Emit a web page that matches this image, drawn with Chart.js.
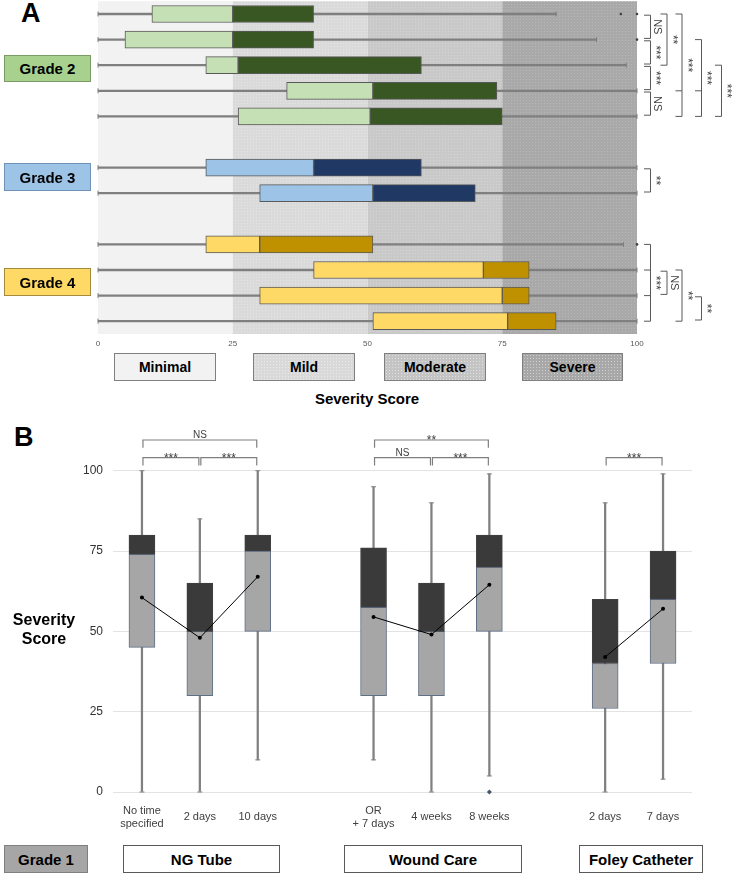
<!DOCTYPE html>
<html>
<head>
<meta charset="utf-8">
<script src="https://cdn.jsdelivr.net/npm/chart.js@4.4.1/dist/chart.umd.min.js"></script>
<style>
  body { margin: 0; width: 733px; height: 874px; position: relative; overflow: hidden; background: #fff;
         font-family: "Liberation Sans", Arial, sans-serif; }
  .abs { position: absolute; }
  .box { position: absolute; box-sizing: border-box; display: flex; align-items: center; justify-content: center;
         font-weight: bold; font-size: 15px; color: #000; border: 1px solid #595959; }
  .dots { background-image: radial-gradient(circle, rgba(255,255,255,0.45) 0.55px, rgba(255,255,255,0) 0.9px);
          background-size: 3px 3px; }
  .panel { position: absolute; font-weight: bold; font-size: 27px; line-height: 27px; color: #000; }
</style>
</head>
<body>

<div class="panel" style="left:21px;top:0px">A</div>
<div class="panel" style="left:14px;top:424px">B</div>

<div class="abs" style="left:0;top:0"><canvas id="chartA" width="733" height="352"></canvas></div>
<div class="abs" style="left:0;top:420px"><canvas id="chartB" width="733" height="410"></canvas></div>

<!-- panel A labels -->
<div class="box" style="left:4px;top:55px;width:87px;height:27px;background:#a9d18e;border-color:#7a9a66">Grade 2</div>
<div class="box" style="left:4px;top:163px;width:87px;height:28px;background:#9dc3e6;border-color:#6f93b8">Grade 3</div>
<div class="box" style="left:4px;top:268px;width:87px;height:28px;background:#ffd966;border-color:#a38a3c">Grade 4</div>

<div class="box" style="left:114px;top:353px;width:102px;height:28px;background:#f2f2f2;border-color:#7f7f7f;font-size:14px">Minimal</div>
<div class="box dots" style="left:253px;top:353px;width:102px;height:28px;background-color:#d9d9d9;border-color:#7f7f7f;font-size:14px">Mild</div>
<div class="box dots" style="left:384px;top:353px;width:102px;height:28px;background-color:#c4c4c4;border-color:#7f7f7f;font-size:14px">Moderate</div>
<div class="box dots" style="left:522px;top:353px;width:101px;height:28px;background-color:#a8a8a8;border-color:#7f7f7f;font-size:14px">Severe</div>
<div class="abs" style="left:267px;top:390px;width:200px;text-align:center;font-weight:bold;font-size:15px">Severity Score</div>

<!-- panel B labels -->
<div class="abs" style="left:4px;top:610px;width:80px;text-align:center;font-weight:bold;font-size:16px;line-height:19px">Severity<br>Score</div>
<div class="box" style="left:4px;top:845px;width:84px;height:28px;background:#a6a6a6;border-color:#7f7f7f">Grade 1</div>
<div class="box" style="left:123px;top:845px;width:157px;height:28px;background:#fff">NG Tube</div>
<div class="box" style="left:344px;top:845px;width:178px;height:28px;background:#fff">Wound Care</div>
<div class="box" style="left:579px;top:845px;width:124px;height:28px;background:#fff">Foley Catheter</div>

<script>
// ---- Panel A data (rows top to bottom, null = spacer row) ----
const rowLabelsA = ['G2-1', 'G2-2', 'G2-3', 'G2-4', 'G2-5', 'gap-1', 'G3-1', 'G3-2', 'gap-2', 'G4-1', 'G4-2', 'G4-3', 'G4-4'];
const gradeOfRowA = ['g2', 'g2', 'g2', 'g2', 'g2', null, 'g3', 'g3', null, 'g4', 'g4', 'g4', 'g4'];
const minA = [0, 0, 0, 0, 0, null, 0, 0, null, 0, 0, 0, 0];
const q1A  = [10, 5, 20, 35, 26, null, 20, 30, null, 20, 40, 30, 51];
const medA = [25, 25, 26, 51, 50.5, null, 40, 51, null, 30, 71.5, 75, 76];
const q3A  = [40, 40, 60, 74, 75, null, 60, 70, null, 51, 80, 80, 85];
const maxA = [85, 92.5, 98, 100, 100, null, 100, 100, null, 97.5, 100, 100, 100];
const outliersA = [[97, 100], [100], [], [], [], [], [], [], [], [100], [], [], []];
const ticksA = [0, 25, 50, 75, 100];
const zoneEdges = [0, 25, 50, 75, 100];

// significance brackets on the right of panel A (row indices)
const bracketsA = [
  { from: 0, to: 1, label: 'NS', col: 0 },
  { from: 1, to: 2, label: '***', col: 0 },
  { from: 2, to: 3, label: '***', col: 0 },
  { from: 3, to: 4, label: 'NS', col: 0 },
  { from: 0, to: 2, label: '**', col: 1 },
  { from: 0, to: 4, mid: [3], label: '***', col: 2 },
  { from: 1, to: 4, mid: [3], label: '***', col: 3 },
  { from: 2, to: 4, label: '***', col: 4 },
  { from: 6, to: 7, label: '**', col: 0 },
  { from: 9, to: 12, mid: [10, 11], label: '***', col: 0 },
  { from: 10, to: 11, label: 'NS', col: 1 },
  { from: 10, to: 12, label: '**', col: 2 },
  { from: 11, to: 12, label: '**', col: 3 }
];

// ---- Panel B data ----
const catsB = [['No time', 'specified'], '2 days', '10 days', '', ['OR', '+ 7 days'], '4 weeks', '8 weeks', '', '2 days', '7 days'];
const minB  = [0, 0, 10, null, 10, 0, 5, null, 0, 4];
const q1B   = [45, 30, 50, null, 30, 30, 50, null, 26, 40];
const medB  = [74, 50, 75, null, 57.5, 50, 70, null, 40, 60];
const q3B   = [80, 65, 80, null, 76, 65, 80, null, 60, 75];
const maxB  = [100, 85, 100, null, 95, 90, 99, null, 90, 99];
const meanB = [60.5, 48, 67, null, 54.5, 49, 64.5, null, 42, 57];
const outlierB = [null, null, null, null, null, null, 0, null, null, null];
const ticksB = [0, 25, 50, 75, 100];

const bracketsB = [
  { from: 0, to: 2, label: 'NS', level: 1 },
  { from: 0, to: 1, label: '***', level: 0 },
  { from: 1, to: 2, label: '***', level: 0 },
  { from: 4, to: 6, label: '**', level: 1 },
  { from: 4, to: 5, label: 'NS', level: 0 },
  { from: 5, to: 6, label: '***', level: 0 },
  { from: 8, to: 9, label: '***', level: 0 }
];

const FONT = '"Liberation Sans", Arial, sans-serif';
const gradeColors = {
  g2: { light: '#c5e0b4', dark: '#385723' },
  g3: { light: '#9dc3e6', dark: '#1f3864' },
  g4: { light: '#ffd966', dark: '#bf9000' }
};

function range(a, b) { return a == null || b == null ? null : [a, b]; }

function dotPattern(ctx, bg, dot) {
  const c = document.createElement('canvas');
  c.width = 3; c.height = 3;
  const g = c.getContext('2d');
  g.fillStyle = bg; g.fillRect(0, 0, 3, 3);
  g.fillStyle = dot; g.fillRect(1, 1, 1, 1);
  return ctx.createPattern(c, 'repeat');
}

// ---- plugins ----
const zonesPlugin = {
  id: 'zones',
  beforeDatasetsDraw(chart) {
    const { ctx, chartArea: a, scales: { x } } = chart;
    const fills = [
      '#f2f2f2',
      dotPattern(ctx, '#dadada', '#e5e5e5'),
      dotPattern(ctx, '#c9c9c9', '#d5d5d5'),
      dotPattern(ctx, '#a9a9a9', '#b8b8b8')
    ];
    ctx.save();
    for (let i = 0; i < zoneEdges.length - 1; i++) {
      const x0 = x.getPixelForValue(zoneEdges[i]);
      const x1 = x.getPixelForValue(zoneEdges[i + 1]);
      ctx.fillStyle = fills[i];
      ctx.fillRect(x0, a.top, x1 - x0, a.bottom - a.top);
    }
    ctx.restore();
  }
};

const bracketsAPlugin = {
  id: 'bracketsA',
  afterDraw(chart) {
    const { ctx, scales: { y } } = chart;
    const colX = [650.5, 667, 682, 701.5, 721.5];
    const tick = 6.5;
    ctx.save();
    ctx.strokeStyle = '#595959';
    ctx.lineWidth = 1;
    ctx.fillStyle = '#404040';
    ctx.textAlign = 'center';
    ctx.textBaseline = 'middle';
    bracketsA.forEach(b => {
      const x = colX[b.col];
      const inset = b.to - b.from === 1 ? 1.2 : 0;
      const y0 = y.getPixelForValue(b.from) + inset;
      const y1 = y.getPixelForValue(b.to) - inset;
      ctx.beginPath();
      ctx.moveTo(x - tick, y0); ctx.lineTo(x, y0); ctx.lineTo(x, y1); ctx.lineTo(x - tick, y1);
      (b.mid || []).forEach(m => {
        const ym = y.getPixelForValue(m);
        ctx.moveTo(x - tick, ym); ctx.lineTo(x, ym);
      });
      ctx.stroke();
      const stars = b.label.indexOf('*') >= 0;
      ctx.font = (stars ? '12px ' : '11px ') + FONT;
      ctx.save();
      ctx.translate(x + (stars ? 5 : 7), (y0 + y1) / 2);
      ctx.rotate(Math.PI / 2);
      ctx.fillText(b.label, 0, 0);
      ctx.restore();
    });
    ctx.restore();
  }
};

const bracketsBPlugin = {
  id: 'bracketsB',
  afterDraw(chart) {
    const { ctx, chartArea: a, scales: { x } } = chart;
    ctx.save();
    ctx.strokeStyle = '#7f7f7f';
    ctx.lineWidth = 1.2;
    ctx.fillStyle = '#404040';
    ctx.textAlign = 'center';
    ctx.textBaseline = 'alphabetic';
    bracketsB.forEach(b => {
      const x0 = x.getPixelForValue(b.from) + 1;
      const x1 = x.getPixelForValue(b.to) - 1;
      const top = a.top - (b.level ? 30.7 : 13);
      const leg = 7.8;
      ctx.beginPath();
      ctx.moveTo(x0, top + leg); ctx.lineTo(x0, top); ctx.lineTo(x1, top); ctx.lineTo(x1, top + leg);
      ctx.stroke();
      const stars = b.label.indexOf('*') >= 0;
      ctx.font = (stars ? '12px ' : '10px ') + FONT;
      ctx.fillText(b.label, (x0 + x1) / 2, stars ? top + 4 : top - 2);
    });
    ctx.restore();
  }
};

// ---- Panel A chart ----
const lightA = gradeOfRowA.map(g => g ? gradeColors[g].light : 'transparent');
const darkA = gradeOfRowA.map(g => g ? gradeColors[g].dark : 'transparent');
const outlierPointsA = [];
outliersA.forEach((vals, i) => vals.forEach(v => outlierPointsA.push({ x: v, y: rowLabelsA[i] })));

new Chart(document.getElementById('chartA'), {
  type: 'bar',
  data: {
    labels: rowLabelsA,
    datasets: [
      { label: 'whisker', data: rowLabelsA.map((_, i) => range(minA[i], maxA[i])), indexAxis: 'y',
        backgroundColor: '#7f7f7f', barThickness: 1.6, grouped: false, order: 6 },
      { label: 'Q1-median', data: rowLabelsA.map((_, i) => range(q1A[i], medA[i])), indexAxis: 'y',
        backgroundColor: lightA, borderColor: '#595959', borderWidth: 1, borderSkipped: false,
        barThickness: 17, grouped: false, order: 5 },
      { label: 'median-Q3', data: rowLabelsA.map((_, i) => range(medA[i], q3A[i])), indexAxis: 'y',
        backgroundColor: darkA, borderColor: '#595959', borderWidth: 1, borderSkipped: false,
        barThickness: 17, grouped: false, order: 4 },
      { type: 'line', label: 'min', data: minA, indexAxis: 'y', showLine: false, clip: false,
        pointStyle: 'line', rotation: 90, pointRadius: 2.5, pointBorderColor: '#7f7f7f', pointBorderWidth: 1, order: 3 },
      { type: 'line', label: 'max', data: maxA, indexAxis: 'y', showLine: false, clip: false,
        pointStyle: 'line', rotation: 90, pointRadius: 2.5, pointBorderColor: '#7f7f7f', pointBorderWidth: 1, order: 3 },
      { type: 'line', label: 'outliers', data: outlierPointsA, indexAxis: 'y', showLine: false, clip: false,
        pointRadius: 1.3, pointBackgroundColor: '#404040', pointBorderWidth: 0, order: 1 }
    ]
  },
  options: {
    indexAxis: 'y',
    responsive: false,
    animation: false,
    events: [],
    layout: { autoPadding: false, padding: { left: 98, right: 96, top: 1.2, bottom: 0 } },
    plugins: { legend: { display: false }, tooltip: { enabled: false } },
    scales: {
      y: { type: 'category', display: false },
      x: {
        type: 'linear', min: 0, max: 100,
        afterBuildTicks(s) { s.ticks = ticksA.map(v => ({ value: v })); },
        afterFit(s) { s.height = 18; },
        grid: { display: false, drawTicks: false },
        border: { display: false },
        ticks: { font: { size: 8, family: FONT }, color: '#595959', padding: 5 }
      }
    }
  },
  plugins: [zonesPlugin, bracketsAPlugin]
});

// ---- Panel B chart ----
new Chart(document.getElementById('chartB'), {
  type: 'bar',
  data: {
    labels: catsB,
    datasets: [
      { label: 'whisker', data: catsB.map((_, i) => range(minB[i], maxB[i])),
        backgroundColor: '#808080', barThickness: 1.6, grouped: false, order: 6 },
      { label: 'Q1-median', data: catsB.map((_, i) => range(q1B[i], medB[i])),
        backgroundColor: '#a6a6a6', borderColor: '#5f6f86', borderWidth: 1, borderSkipped: false,
        barThickness: 26, grouped: false, order: 5 },
      { label: 'median-Q3', data: catsB.map((_, i) => range(medB[i], q3B[i])),
        backgroundColor: '#3a3a3a', borderColor: '#404040', borderWidth: 1, borderSkipped: false,
        barThickness: 26, grouped: false, order: 4 },
      { type: 'line', label: 'min', data: minB, showLine: false, clip: false,
        pointStyle: 'line', pointRadius: 2.5, pointBorderColor: '#808080', pointBorderWidth: 1, order: 3 },
      { type: 'line', label: 'max', data: maxB, showLine: false, clip: false,
        pointStyle: 'line', pointRadius: 2.5, pointBorderColor: '#808080', pointBorderWidth: 1, order: 3 },
      { type: 'line', label: 'mean', data: meanB, spanGaps: false, borderColor: '#000', borderWidth: 1,
        pointRadius: 2, pointBackgroundColor: '#000', pointBorderWidth: 0, clip: false, order: 2 },
      { type: 'line', label: 'outlier', data: outlierB, showLine: false, clip: false,
        pointStyle: 'rectRot', pointRadius: 2.5, pointBackgroundColor: '#44546a', pointBorderWidth: 0, order: 1 }
    ]
  },
  options: {
    responsive: false,
    animation: false,
    events: [],
    layout: { autoPadding: false, padding: { left: 0, right: 41, top: 50.7, bottom: 0 } },
    plugins: { legend: { display: false }, tooltip: { enabled: false } },
    scales: {
      x: {
        type: 'category',
        afterFit(s) { s.height = 38; },
        grid: { display: false, drawTicks: false },
        border: { display: false },
        ticks: { font: { size: 11, family: FONT }, color: '#404040', padding: 18.7,
                 crossAlign: 'center', autoSkip: false, maxRotation: 0 }
      },
      y: {
        type: 'linear', min: 0, max: 100,
        afterBuildTicks(s) { s.ticks = ticksB.map(v => ({ value: v })); },
        afterFit(s) { s.width = 113; },
        grid: { color: '#e3e3e3', drawTicks: false },
        border: { display: false },
        ticks: { font: { size: 12, family: FONT }, color: '#333', padding: 10 }
      }
    }
  },
  plugins: [bracketsBPlugin]
});
</script>
</body>
</html>
